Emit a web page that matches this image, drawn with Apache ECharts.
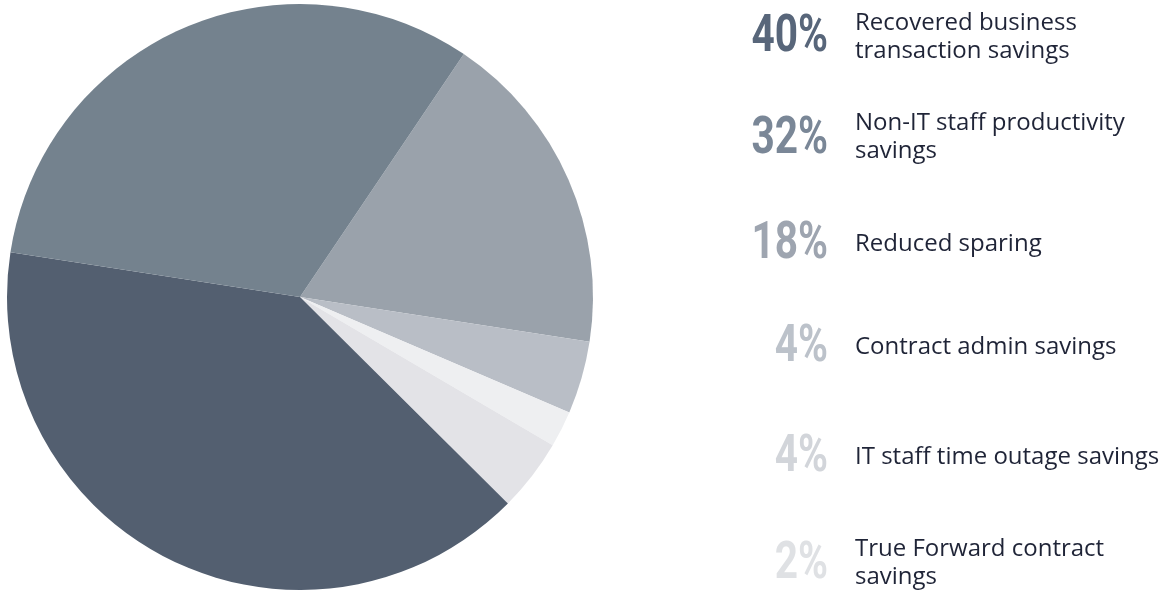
<!DOCTYPE html>
<html>
<head>
<meta charset="utf-8">
<script src="https://cdn.jsdelivr.net/npm/echarts@6/dist/echarts.min.js"></script>
<style>html,body{margin:0;padding:0;background:#fff}#c{width:1170px;height:592px}</style>
</head>
<body>
<div id="c"></div>
<script>
// Slices in clockwise order starting from the top-right edge
const sliceNames = ['Reduced sparing', 'Contract admin savings', 'True Forward contract savings', 'IT staff time outage savings', 'Recovered business transaction savings', 'Non-IT staff productivity savings'];
const sliceValues = [18, 4, 2, 4, 40, 32];
const sliceColors = ['#9aa2ab', '#b9bec6', '#eeeff1', '#e3e3e7', '#535f70', '#74828e'];

// Right-hand key, top to bottom
const keyPercents = ['40%', '32%', '18%', '4%', '4%', '2%'];
const keyLabels = ['Recovered business\ntransaction savings', 'Non-IT staff productivity\nsavings', 'Reduced sparing', 'Contract admin savings', 'IT staff time outage savings', 'True Forward contract\nsavings'];
const keyColors = ['#58667a', '#7a8797', '#9ea5b0', '#bcc2ca', '#d2d5da', '#dfe1e4'];

const rowY = [38, 140, 245, 348, 458, 565];
const labelY = [37, 137, 244, 347, 457, 563];

const chart = echarts.init(document.getElementById('c'), null, {renderer: 'canvas'});
const graphics = [];
keyPercents.forEach((p, i) => {
  graphics.push({
    type: 'text', x: 828, y: rowY[i], scaleX: 0.78,
    style: {
      text: p, textAlign: 'right', textVerticalAlign: 'middle',
      fill: keyColors[i], fontSize: 52, fontWeight: 'bold',
      fontFamily: "Roboto, 'DejaVu Sans Condensed', sans-serif"
    }
  });
  graphics.push({
    type: 'text', x: 855, y: labelY[i],
    style: {
      text: keyLabels[i], textAlign: 'left', textVerticalAlign: 'middle',
      fill: '#1f2437', fontSize: 24, lineHeight: 28,
      fontFamily: "'Open Sans', Lato, sans-serif"
    }
  });
});

chart.setOption({
  animation: false,
  graphic: graphics,
  series: [{
    type: 'pie',
    center: [300, 297],
    radius: [0, 293],
    startAngle: 56,
    clockwise: true,
    label: {show: false},
    labelLine: {show: false},
    itemStyle: {borderWidth: 0},
    emphasis: {disabled: true},
    data: sliceNames.map((n, i) => ({name: n, value: sliceValues[i], itemStyle: {color: sliceColors[i]}}))
  }]
});
</script>
</body>
</html>
